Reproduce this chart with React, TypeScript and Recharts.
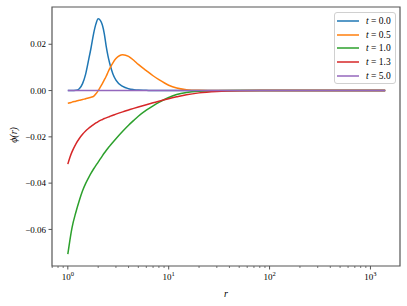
import { LineChart, Line, XAxis, YAxis, Legend, ReferenceArea } from 'recharts';

const rValues = [1, 1.05, 1.1, 1.2, 1.3, 1.4, 1.5, 1.6, 1.7, 1.8, 1.9, 2.0, 2.1, 2.2, 2.3, 2.4, 2.5, 2.6, 2.8, 3.0, 3.5, 4.0, 4.5, 5, 6, 7, 8, 10, 12, 15, 20, 30, 50, 100, 200, 500, 1000, 1400];

const phiT00 = [0, 0, 0, 0.0001, 0.0008, 0.003, 0.007, 0.0128, 0.0185, 0.0245, 0.0288, 0.031, 0.0303, 0.0283, 0.0245, 0.0192, 0.015, 0.0118, 0.0072, 0.0045, 0.0018, 0.0008, 0.0004, 0.0002, 0.0001, 0, 0, 0, 0, 0, 0, 0, 0, 0, 0, 0, 0, 0];
const phiT05 = [-0.0055, -0.0053, -0.005, -0.0046, -0.0042, -0.0039, -0.0035, -0.0032, -0.0029, -0.0025, -0.0014, 0.0, 0.0015, 0.003, 0.0046, 0.0062, 0.0079, 0.0095, 0.012, 0.0138, 0.0155, 0.0148, 0.0131, 0.0113, 0.0086, 0.0064, 0.0047, 0.0023, 0.0011, 0.0004, 0.0001, 0, 0, 0, 0, 0, 0, 0];
const phiT10 = [-0.0707, -0.0645, -0.0593, -0.0527, -0.0475, -0.0433, -0.0402, -0.0378, -0.0357, -0.0339, -0.0323, -0.0309, -0.0295, -0.0282, -0.027, -0.0259, -0.0249, -0.024, -0.0223, -0.0208, -0.0176, -0.015, -0.0129, -0.0111, -0.0085, -0.0066, -0.0051, -0.003, -0.0017, -0.0008, -0.0003, -0.0001, 0, 0, 0, 0, 0, 0];
const phiT13 = [-0.0318, -0.0288, -0.0265, -0.0231, -0.0207, -0.0189, -0.0175, -0.0164, -0.0155, -0.0147, -0.014, -0.0134, -0.0129, -0.0125, -0.0121, -0.0118, -0.0115, -0.0112, -0.0107, -0.0102, -0.0092, -0.0084, -0.0077, -0.0071, -0.0061, -0.0053, -0.0046, -0.0035, -0.0027, -0.0018, -0.001, -0.0004, -0.0001, 0, 0, 0, 0, 0];
const phiT50 = [0, 0, 0, 0, 0, 0, 0, 0, 0, 0, 0, 0, 0, 0, 0, 0, 0, 0, 0, 0, 0, 0, 0, 0, 0, 0, 0, 0, 0, 0, 0, 0, 0, 0, 0, 0, 0, 0];

const seriesNames = ['0.0', '0.5', '1.0', '1.3', '5.0'];
const seriesColors = ['#1f77b4', '#ff7f0e', '#2ca02c', '#d62728', '#9467bd'];

const xTicks = [0.7, 0.8, 0.9, 1, 2, 3, 4, 5, 6, 7, 8, 9, 10, 20, 30, 40, 50, 60, 70, 80, 90, 100, 200, 300, 400, 500, 600, 700, 800, 900, 1000];
const yTicks = [-0.06, -0.04, -0.02, 0, 0.02];

const data = rValues.map((r, i) => ({
    r,
    t0: phiT00[i],
    t1: phiT05[i],
    t2: phiT10[i],
    t3: phiT13[i],
    t4: phiT50[i],
}));

const FONT = '"Liberation Serif", "DejaVu Serif", serif';
const SPINE = '#555';

function isMajor(v: number) {
    const l = Math.log10(v);
    return Math.abs(l - Math.round(l)) < 1e-9;
}

function XTick(props: any) {
    const { x, y, payload } = props;
    const v = payload.value;
    if (!isMajor(v)) {
        return <line x1={x} y1={y} x2={x} y2={y + 2} stroke={SPINE} strokeWidth={0.8} />;
    }
    const exp = Math.round(Math.log10(v));
    return (
        <g>
            <line x1={x} y1={y} x2={x} y2={y + 3.5} stroke={SPINE} strokeWidth={1} />
            <text x={x} y={y + 13.5} textAnchor="middle" fontFamily={FONT} fontSize={9} fill="#000">
                10<tspan dy={-4} fontSize={6.5}>{exp}</tspan>
            </text>
        </g>
    );
}

function YTick(props: any) {
    const { x, y, payload } = props;
    const v = payload.value;
    const label = (v < 0 ? '\u2212' : '') + Math.abs(v).toFixed(2);
    return (
        <g>
            <line x1={x - 3.5} y1={y} x2={x} y2={y} stroke={SPINE} strokeWidth={1} />
            <text x={x - 6} y={y + 3.2} textAnchor="end" fontFamily={FONT} fontSize={9} fill="#000">
                {label}
            </text>
        </g>
    );
}

function renderLegend() {
    return (
        <div style={{
            boxSizing: 'border-box', width: 62, height: 72, border: '1px solid #d0d0d0', borderRadius: 3,
            background: 'rgba(255,255,255,0.8)', paddingTop: 1, fontFamily: FONT, fontSize: 9.5,
        }}>
            {seriesNames.map((n, i) => (
                <div key={n} style={{ display: 'flex', alignItems: 'center', height: 13.7 }}>
                    <svg width={22} height={4} style={{ marginLeft: 2, marginRight: 7 }}>
                        <line x1={0} y1={2} x2={22} y2={2} stroke={seriesColors[i]} strokeWidth={1.5} />
                    </svg>
                    <span><i>t</i> = {n}</span>
                </div>
            ))}
        </div>
    );
}

const App = () => {
    return (
        <div style={{ position: 'absolute', left: 0, top: 0, background: '#fff' }}>
            <LineChart width={407} height={306} data={data} margin={{ top: 7, right: 7, left: 0, bottom: 0 }}>
                <XAxis
                    dataKey="r" type="number" scale="log" domain={[0.697, 1963]} allowDataOverflow
                    ticks={xTicks} tick={XTick} tickLine={false} axisLine={false} tickSize={0} tickMargin={0}
                    height={40} interval={0}
                    label={() => (
                        <text x={226} y={297} textAnchor="middle" fontFamily={FONT} fontStyle="italic" fontSize={10}>r</text>
                    )}
                />
                <YAxis
                    type="number" domain={[-0.0758, 0.0361]} allowDataOverflow
                    ticks={yTicks} tick={YTick} tickLine={false} axisLine={false} tickSize={0} tickMargin={0}
                    width={52} interval={0}
                    label={() => (
                        <text x={0} y={0} transform="translate(17,135) rotate(-90)" textAnchor="middle" fontFamily={FONT} fontStyle="italic" fontSize={10}>
                            {'\u03d5(r)'}
                        </text>
                    )}
                />
                <Line dataKey="t0" stroke={seriesColors[0]} strokeWidth={1.5} dot={false} type="monotone" isAnimationActive={false} />
                <Line dataKey="t1" stroke={seriesColors[1]} strokeWidth={1.5} dot={false} type="monotone" isAnimationActive={false} />
                <Line dataKey="t2" stroke={seriesColors[2]} strokeWidth={1.5} dot={false} type="monotone" isAnimationActive={false} />
                <Line dataKey="t3" stroke={seriesColors[3]} strokeWidth={1.5} dot={false} type="monotone" isAnimationActive={false} />
                <Line dataKey="t4" stroke={seriesColors[4]} strokeWidth={1.5} dot={false} type="monotone" isAnimationActive={false} />
                <ReferenceArea x1={0.697} x2={1963} y1={-0.0758} y2={0.0361} fill="none" stroke={SPINE} strokeWidth={1.2} ifOverflow="visible" />
                <Legend
                    content={renderLegend} layout="vertical" align="center" verticalAlign="middle"
                    wrapperStyle={{ left: 334, top: 12, width: 62, height: 72 }}
                />
            </LineChart>
        </div>
    );
};

export default App;
